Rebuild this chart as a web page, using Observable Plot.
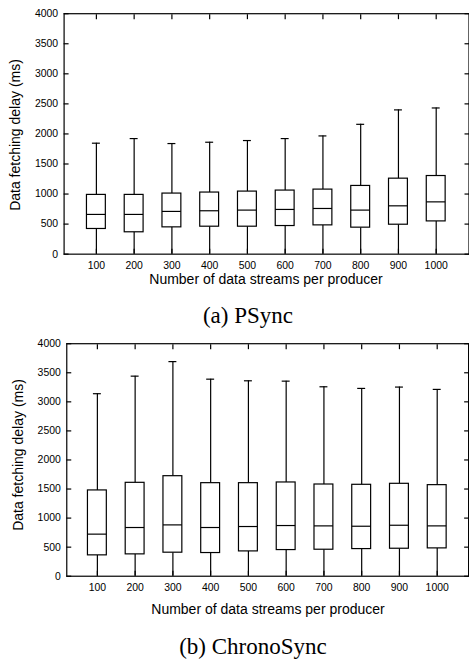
<!DOCTYPE html>
<html>
<head>
<meta charset="utf-8">
<script src="https://cdn.jsdelivr.net/npm/d3@7"></script>
<script src="https://cdn.jsdelivr.net/npm/@observablehq/plot@0.6"></script>
<style>
  html, body { margin: 0; padding: 0; background: #fff; }
  #wrap { position: relative; width: 469px; height: 662px; overflow: hidden; background: #fff; }
  .panel { position: absolute; left: 0; }
  .lbl { position: absolute; white-space: nowrap; color: #000; transform: translate(-50%, -50%); }
  .axt { font-family: "Liberation Sans", Arial, sans-serif; font-size: 14px; }
  .cap { font-family: "Liberation Serif", "Times New Roman", serif; font-size: 23px; }
  .rot { transform: translate(-50%, -50%) rotate(-90deg); }
</style>
</head>
<body>
<div id="wrap">
  <div class="panel" id="p1" style="top:0px"></div>
  <div class="panel" id="p2" style="top:330px"></div>
  <div class="lbl axt rot" style="left:15px; top:135px">Data fetching delay (ms)</div>
  <div class="lbl axt" style="left:266px; top:279px">Number of data streams per producer</div>
  <div class="lbl cap" style="left:248px; top:316px">(a) PSync</div>
  <div class="lbl axt rot" style="left:18px; top:455px">Data fetching delay (ms)</div>
  <div class="lbl axt" style="left:268px; top:609px">Number of data streams per producer</div>
  <div class="lbl cap" style="left:253px; top:647px">(b) ChronoSync</div>
</div>
<script>
// ---- data ----
const streams = [100, 200, 300, 400, 500, 600, 700, 800, 900, 1000];
const yTicks = [0, 500, 1000, 1500, 2000, 2500, 3000, 3500, 4000];

const psyncMin    = [0, 0, 0, 0, 0, 0, 0, 0, 0, 0];
const psyncQ1     = [419, 364, 446, 457, 457, 468, 479, 441, 490, 545];
const psyncMedian = [661, 661, 711, 722, 733, 744, 760, 733, 804, 870];
const psyncQ3     = [986, 986, 1008, 1025, 1041, 1058, 1074, 1135, 1256, 1300];
const psyncMax    = [1846, 1923, 1840, 1862, 1890, 1923, 1967, 2160, 2400, 2432];

const chronoMin    = [0, 0, 0, 0, 0, 0, 0, 0, 0, 0];
const chronoQ1     = [359, 376, 405, 399, 427, 450, 456, 467, 473, 479];
const chronoMedian = [724, 838, 883, 838, 855, 872, 866, 860, 877, 866];
const chronoQ3     = [1476, 1607, 1721, 1601, 1601, 1613, 1578, 1573, 1590, 1567];
const chronoMax    = [3140, 3442, 3692, 3390, 3362, 3356, 3259, 3231, 3254, 3214];

function rowsOf(mn, q1, md, q3, mx) {
  return streams.map((s, i) => ({streams: s, min: mn[i], q1: q1[i], median: md[i], q3: q3[i], max: mx[i]}));
}

function boxChart(rows, opts) {
  const stroke = "#000";
  const sw = 1.2;
  const fmt = (d) => String(d);
  return Plot.plot({
    width: 472,
    height: opts.height,
    marginTop: opts.marginTop,
    marginBottom: opts.marginBottom,
    marginLeft: opts.marginLeft,
    marginRight: opts.marginRight,
    style: {fontFamily: "'Liberation Sans', Arial, sans-serif", fontSize: "10.5px", color: "#000", background: "transparent"},
    x: {type: "band", domain: streams, padding: 0.5, align: 0.5},
    y: {domain: [0, 4000]},
    marks: [
      Plot.ruleX(rows, {x: "streams", y1: "min", y2: "q1", stroke, strokeWidth: sw}),
      Plot.ruleX(rows, {x: "streams", y1: "q3", y2: "max", stroke, strokeWidth: sw}),
      Plot.barY(rows, {x: "streams", y1: "q1", y2: "q3", fill: "white", stroke, strokeWidth: sw}),
      Plot.tickY(rows, {x: "streams", y: "median", stroke, strokeWidth: sw}),
      Plot.tickY(rows, {x: "streams", y: "max", stroke, strokeWidth: sw, insetLeft: 5.5, insetRight: 5.5}),
      Plot.frame({stroke, strokeWidth: sw}),
      Plot.axisY(yTicks, {anchor: "left", tickSize: -5, tickPadding: 11, tickFormat: fmt, label: null, stroke, strokeWidth: sw}),
      Plot.axisY(yTicks, {anchor: "right", tickSize: -5, tickFormat: () => "", label: null, stroke, strokeWidth: sw}),
      Plot.axisX(streams, {anchor: "bottom", tickSize: -5, tickPadding: 12, tickFormat: fmt, label: null, stroke, strokeWidth: sw}),
      Plot.axisX(streams, {anchor: "top", tickSize: -5, tickFormat: () => "", label: null, stroke, strokeWidth: sw})
    ]
  });
}

document.getElementById("p1").appendChild(boxChart(
  rowsOf(psyncMin, psyncQ1, psyncMedian, psyncQ3, psyncMax),
  {height: 300, marginTop: 13.3, marginBottom: 44.7, marginLeft: 64, marginRight: 0.5}
));
document.getElementById("p2").appendChild(boxChart(
  rowsOf(chronoMin, chronoQ1, chronoMedian, chronoQ3, chronoMax),
  {height: 290, marginTop: 13.3, marginBottom: 42.7, marginLeft: 66.7, marginRight: 0.9}
));
</script>
</body>
</html>
